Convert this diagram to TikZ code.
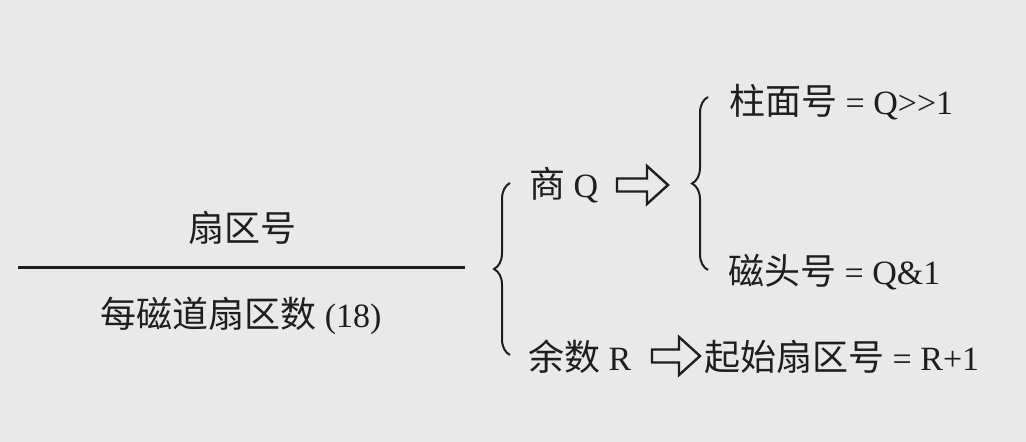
\documentclass[tikz,border=0pt]{standalone}
\usepackage{fontspec}
\setmainfont{Liberation Serif}
\newfontfamily\cjk{Noto Sans CJK SC}
\usetikzlibrary{decorations.pathreplacing,calc}
\definecolor{bgc}{HTML}{E9E9E9}
\definecolor{ink}{HTML}{1E1E1E}
\newcommand\blockarrow[2]{%
  \draw[blk] let \p1=(#1), \p2=(#2) in
    (\x1,\y1+6.5pt) -- (\x2-21pt,\y1+6.5pt) -- (\x2-21pt,\y1+19pt) -- (\x2,\y1)
    -- (\x2-21pt,\y1-19pt) -- (\x2-21pt,\y1-6.5pt) -- (\x1,\y1-6.5pt) -- cycle;}
\newcommand\zh[1]{{\cjk\fontsize{36}{40}\selectfont #1}}
\begin{document}
\begin{tikzpicture}[x=1pt,y=-1pt,
  txt/.style={inner sep=0pt, text=ink, font=\fontsize{34}{38}\selectfont},
  lft/.style={txt, anchor=west},
  bracel/.style={draw=ink, line width=2pt, decorate, decoration={brace, amplitude=16pt, aspect=0.5}},
  blk/.style={draw=ink, line width=2.4pt, line join=miter}]
\fill[bgc] (0,0) rectangle (1026,442);
\useasboundingbox (0,0) rectangle (1026,442);
% fraction
\node[txt] (num) at (242,228) {\zh{扇区号}};
\node[txt] (den) at (241,316) {\zh{每磁道扇区数} (18)};
\coordinate (fl) at (18,267);
\coordinate (fr) at (465,267);
\draw[ink, line width=3pt] (fl) -- (fr);
% first brace
\coordinate (b1b) at (510,355);
\coordinate (b1t) at (510,183);
\draw[bracel] (b1b) -- (b1t);
\node[lft] (q) at (529,185) {\zh{商} Q};
\node[lft] (r) at (528,357) {\zh{余数} R};
% arrows
\coordinate (a1s) at (617,185);
\coordinate (a1e) at (668,185);
\blockarrow{a1s}{a1e}
\coordinate (a2s) at (652,356);
\coordinate (a2e) at (700,356);
\blockarrow{a2s}{a2e}
% second brace
\coordinate (b2b) at (708,270);
\coordinate (b2t) at (708,97);
\draw[bracel] (b2b) -- (b2t);
\node[lft] (cyl) at (729,102) {\zh{柱面号} = Q>{}>1};
\node[lft] (hd) at (728,272) {\zh{磁头号} = Q\&1};
\node[lft] (sec) at (704,357) {\zh{起始扇区号} = R+1};
\end{tikzpicture}
\end{document}
